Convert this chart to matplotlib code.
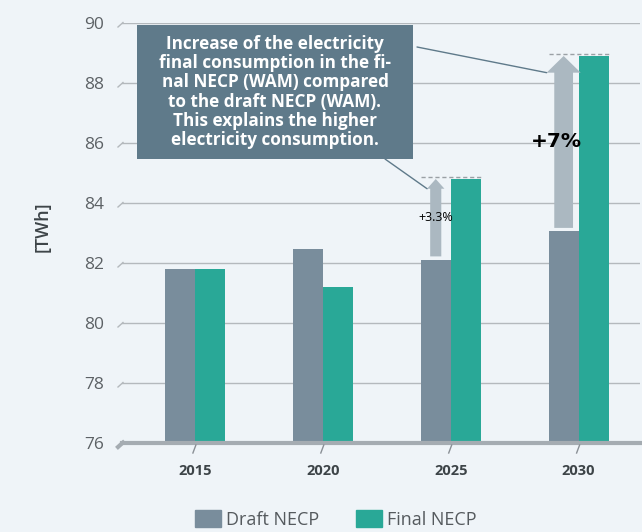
import matplotlib
matplotlib.use("Agg")
import matplotlib.pyplot as plt
import numpy as np
from matplotlib.patches import Patch, Rectangle, FancyArrowPatch, ConnectionPatch
from matplotlib.lines import Line2D

plt.rcParams['font.family'] = ['Open Sans', 'DejaVu Sans']

years = ["2015", "2020", "2025", "2030"]
draft = [81.8, 82.45, 82.1, 83.05]
final = [81.8, 81.2, 84.8, 88.9]
arrow_idx = [2, 3]
pct_labels = ["+3.3%", "+7%"]
yticks = [76, 78, 80, 82, 84, 86, 88, 90]
note = ("Increase of the electricity\nfinal consumption in the fi-\nnal NECP (WAM) compared\n"
        "to the draft NECP (WAM).\nThis explains the higher\nelectricity consumption.")

BG = '#eff4f8'
C_DRAFT = '#798d9c'
C_FINAL = '#29a897'
C_ARROW = '#abb8c1'
C_BOX = '#5f7a8a'

W, H = 642, 532
fig = plt.figure(figsize=(W/100, H/100), dpi=100, facecolor=BG)
ax = fig.add_axes([122/W, 1-443/H, (640-122)/W, (443-23)/H], facecolor=BG)

x = np.arange(len(years))
bw = 0.234
ax.bar(x - bw/2, [d - 76 for d in draft], bw, bottom=76, color=C_DRAFT, zorder=3)
ax.bar(x + bw/2, [f - 76 for f in final], bw, bottom=76, color=C_FINAL, zorder=3)

ax.set_xlim(-0.57, 3.48)
ax.set_ylim(76, 90)
ax.set_yticks(yticks)
ax.set_xticks(x)
ax.set_xticklabels(years, fontweight='bold', color='#3d4448', fontsize=10.5)
ax.tick_params(axis='y', length=0, pad=13, labelsize=12.5, labelcolor='#5c6165')
ax.tick_params(axis='x', length=0, pad=15)
for s in ax.spines.values():
    s.set_visible(False)
for yv in yticks[1:]:
    ax.axhline(yv, color='#b4b9bd', lw=1, zorder=1)
ax.axhline(76, color='#a5acb2', lw=3, zorder=4, clip_on=False)

ax.set_ylabel("[TWh]", fontsize=13, color='#3d4448', fontweight='semibold')
ax.yaxis.set_label_coords(-0.135, 0.515)

# arrows (at draft bar centre)
shaft = {2: 8, 3: 13.5}
headw = {2: 12.5, 3: 24.5}
headl = {2: 7, 3: 12}
fontsz = {2: 9, 3: 14.5}
fontw = {2: 'normal', 3: 'bold'}
txt_dx = {2: 0.0, 3: -0.06}
head_left = {}
px_per_x = 128.0
for k, i in enumerate(arrow_idx):
    ax_x = i - bw/2
    y0 = draft[i] + 0.12
    y1 = final[i]
    arr = FancyArrowPatch((ax_x, y0), (ax_x, y1),
                          arrowstyle=f"simple,head_length={headl[i]},head_width={headw[i]},tail_width={shaft[i]}",
                          mutation_scale=1, shrinkA=0, shrinkB=0, color=C_ARROW, lw=0, zorder=4)
    ax.add_patch(arr)
    hw_data = (headw[i] / 0.72) / px_per_x / 2
    ax.plot([i - bw, i + bw], [final[i] + 0.07] * 2, ls=(0, (3, 2)), color='#9aa0a5', lw=1, zorder=5)
    ax.text(ax_x + txt_dx[i], (y0 + y1) / 2, pct_labels[k], ha='center', va='center',
            fontsize=fontsz[i], fontweight=fontw[i], color='black', zorder=6,
            family=['DejaVu Sans'] if i == 3 else None)
    head_left[i] = (ax_x - hw_data, y1 - headl[i] / 0.72 / 30)

# note box
bx0, by0, bx1, by1 = 137, 25, 413, 159
fig.patches.append(Rectangle((bx0/W, 1-by1/H), (bx1-bx0)/W, (by1-by0)/H,
                             transform=fig.transFigure, facecolor=C_BOX, edgecolor='none', zorder=10))
fig.text((bx0+bx1)/2/W, 1-(by0+by1)/2/H, note, ha='center', va='center', color='white',
         fontsize=12.3, fontweight='bold', linespacing=1.09, zorder=11)

for (fx, fy), i in [((417, 47), 3), ((385, 159), 2)]:
    con = ConnectionPatch(xyA=(fx/W, 1-fy/H), coordsA=fig.transFigure,
                          xyB=head_left[i], coordsB=ax.transData,
                          color='#5f7a8a', lw=1, zorder=9)
    fig.add_artist(con)

# decorative slashes
fig.canvas.draw()
for yv in yticks:
    px, py = ax.transData.transform((ax.get_xlim()[0], yv))
    lw = 3 if yv == 76 else 1
    col = '#a5acb2' if yv == 76 else '#b4b9bd'
    fig.add_artist(Line2D([px - 4, px + 1], [py - 4, py + 0.5], transform=None, color=col, lw=lw))
for xv in x:
    px, py = ax.transData.transform((xv, 76))
    fig.add_artist(Line2D([px - 2, px + 1], [py - 10, py - 2], transform=None, color='#8a9096', lw=1))

handles = [Patch(color=C_DRAFT, label="Draft NECP"), Patch(color=C_FINAL, label="Final NECP")]
fig.legend(handles=handles, loc='center', bbox_to_anchor=(0.523, 0.024), ncol=2, frameon=False,
           fontsize=13, handlelength=1.45, handleheight=1.1, columnspacing=2.0, handletextpad=0.3,
           labelcolor='#555a5e', borderpad=0.1)

fig.savefig("out.png", dpi=100, facecolor=BG)
